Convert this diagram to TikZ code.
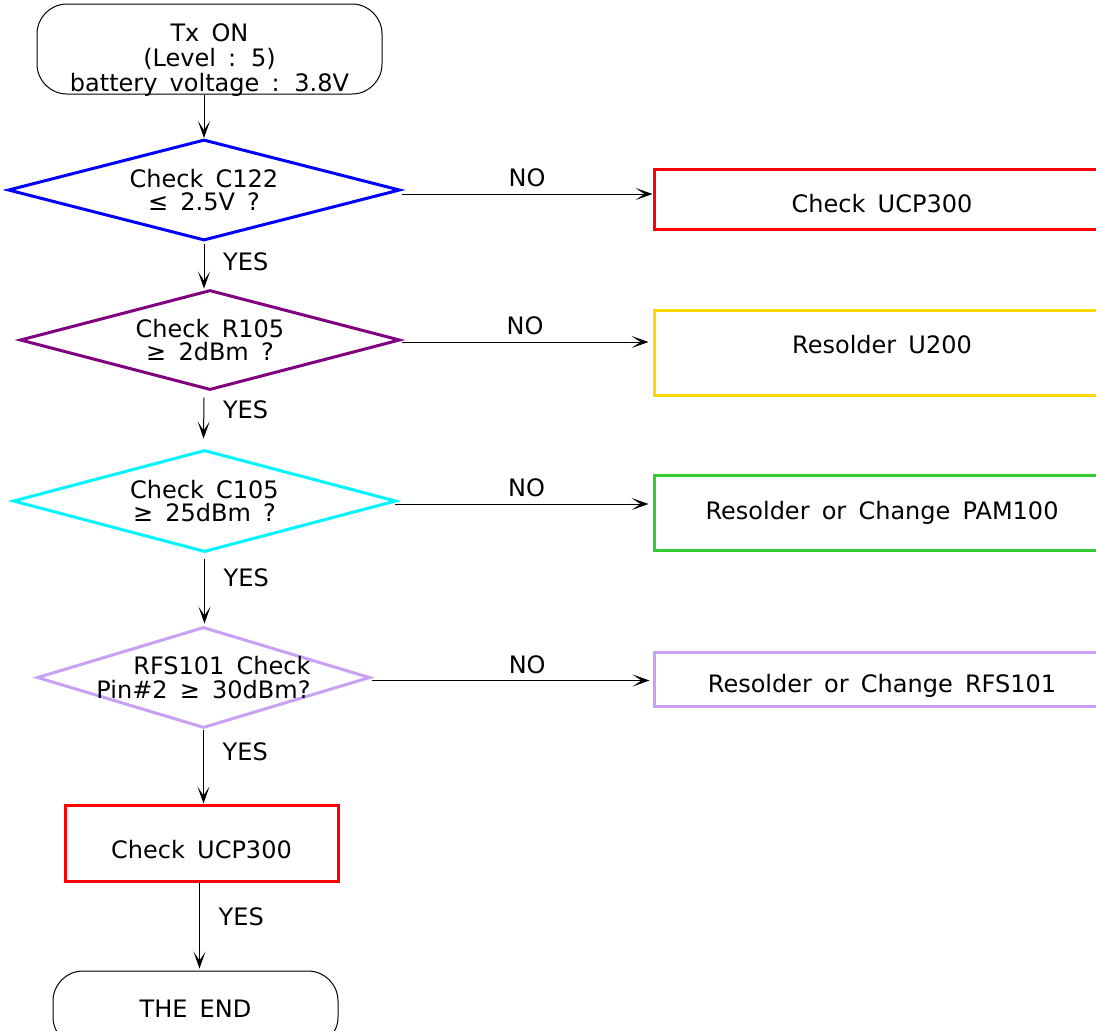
\documentclass[tikz,border=0pt]{standalone}
\usepackage{fontspec}
\setmainfont[WordSpace=1.6]{DejaVu Sans}
\usetikzlibrary{shapes.geometric, arrows.meta, positioning, calc}

\definecolor{chkblue}{RGB}{0,0,255}
\definecolor{chkpurple}{RGB}{128,0,128}
\definecolor{chkcyan}{RGB}{0,245,255}
\definecolor{chklilac}{RGB}{200,160,245}
\definecolor{chkred}{RGB}{255,0,0}
\definecolor{chkgold}{RGB}{255,215,0}
\definecolor{chkgreen}{RGB}{50,205,50}

\tikzstyle{terminal} = [rectangle, rounded corners=15pt, draw=black, line width=0.5pt,
                        align=center, inner sep=0pt]
\tikzstyle{decision} = [diamond, draw, line width=1.5pt, align=center, inner sep=0pt, aspect=3.9]
\tikzstyle{action}   = [rectangle, draw, line width=1.5pt, align=center, inner sep=0pt]
\tikzstyle{arrow}    = [line width=0.5pt, -{Stealth[length=8.5pt, width=6pt, inset=4.5pt]}]

\begin{document}
\begin{tikzpicture}[x=0.5pt, y=-0.5pt,
    every node/.style={font=\fontsize{12}{11.8}\selectfont}]

  \useasboundingbox (0,0) rectangle (1096,1030);

  % Start
  \node (start) [terminal, minimum width=172.5pt, minimum height=45pt] at (209.5,49)
        {\raisebox{-6pt}[\height][\depth]{\begin{tabular}{@{}c@{}}Tx ON\\(Level : 5)\\battery voltage : 3.8V\end{tabular}}};

  % Decisions
  \node (chk1) [decision, draw=chkblue, minimum width=196pt, minimum height=50.5pt] at (204,190)
        {Check C122\\ ≤ 2.5V ?};
  \node (chk2) [decision, draw=chkpurple, minimum width=190pt, minimum height=50pt] at (210,340)
        {Check R105\\ ≥ 2dBm ?};
  \node (chk3) [decision, draw=chkcyan, minimum width=191.5pt, minimum height=51pt] at (204.5,501)
        {Check C105\\ ≥ 25dBm ?};
  \node (chk4) [decision, draw=chklilac, minimum width=166.5pt, minimum height=50.5pt,
                inner xsep=-34pt, align=right] at (203.5,677.5)
        {RFS101 Check\\Pin\#2 ≥ 30dBm?};

  % Actions
  \node (fix1) [action, draw=chkred, minimum width=228pt, minimum height=30pt,
                text height=14pt] at (882,199) {Check UCP300};
  \node (fix2) [action, draw=chkgold, minimum width=228pt, minimum height=42.5pt,
                text depth=8pt] at (882,352.5) {Resolder U200};
  \node (fix3) [action, draw=chkgreen, minimum width=228pt, minimum height=37.5pt]
                at (882,512.5) {Resolder or Change PAM100};
  \node (fix4) [action, draw=chklilac, minimum width=228pt, minimum height=27pt,
                text height=15.5pt] at (882,679) {Resolder or Change RFS101};
  \node (ucp) [action, draw=chkred, minimum width=136.5pt, minimum height=38pt,
               text height=15.5pt] at (201.5,843) {Check UCP300};

  % End
  \node (theend) [terminal, minimum width=142.5pt, minimum height=38pt] at (195.5,1009)
        {THE END};

  % Main flow
  \draw[arrow] (chk1.north |- start.south) -- (chk1.north);
  \draw[arrow] ($(chk1.south)+(0,2)$) -- node[right, pos=0.4, xshift=6pt]{YES} (chk1.south |- chk2.north);
  \draw[arrow] ($(chk2.south)+(-6,6)$) -- node[right, pos=0.3, xshift=6pt]{YES} ($(chk3.north)+(-1,-10)$);
  \draw[arrow] ($(chk3.south)+(0,5)$) -- node[right, pos=0.3, xshift=6pt]{YES} ($(chk3.south)+(0,70)$);
  \draw[arrow] (chk4.south) -- node[right, pos=0.3, xshift=6pt]{YES} (chk4.south |- ucp.north);
  \draw[arrow] ($(ucp.south)+(-2,0)$) -- node[right, pos=0.4, xshift=6pt]{YES} ($(theend.north)+(4,-2)$);

  % NO branches
  \draw[arrow] ($(chk1.east)+(0,4)$) -- node[above]{NO} ($(chk1.east -| fix1.west)+(0,4)$);
  \draw[arrow] ($(chk2.east)+(0,2)$) -- node[above]{NO} ($(chk2.east -| fix2.west)+(-4,2)$);
  \draw[arrow] ($(chk3.east)+(-3,3)$) -- node[above, pos=0.52]{NO} ($(chk3.east -| fix3.west)+(-4,3)$);
  \draw[arrow] ($(chk4.east)+(0,3)$) -- node[above, pos=0.56]{NO} ($(chk4.east -| fix4.west)+(-3,3)$);

\end{tikzpicture}
\end{document}
